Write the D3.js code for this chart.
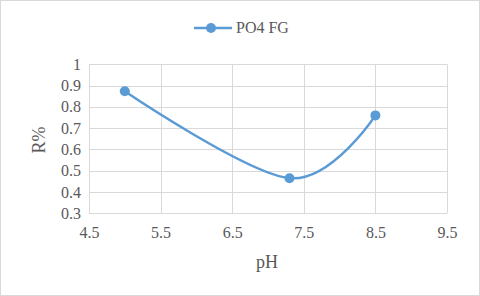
<!DOCTYPE html>
<html><head><meta charset="utf-8">
<script src="https://cdn.jsdelivr.net/npm/d3@7"></script>
</head><body>
<svg id="c" width="480" height="296"></svg>
<script>
const seriesName = "PO4 FG";
const phValues = [5.0, 7.3, 8.5];
const rValues = [0.873, 0.465, 0.76];
const xTicks = [4.5, 5.5, 6.5, 7.5, 8.5, 9.5];
const yTicks = [0.3, 0.4, 0.5, 0.6, 0.7, 0.8, 0.9, 1];
const xGrid = [4.5, 5.5, 6.5, 7.5, 8.5, 9.5];

d3.select("body").style("margin","0px");
const svg = d3.select("#c").style("display","block");
const blue = "#5b9bd5";
const TXT = "#595959";

svg.append("rect").attr("x",0.5).attr("y",0.5).attr("width",479).attr("height",295)
  .attr("fill","#fff").attr("stroke","#d9d9d9");

const x = d3.scaleLinear().domain([4.5,9.5]).range([89,447]);
const y = d3.scaleLinear().domain([0.3,1]).range([213.3,64.3]);

const g = svg.append("g");
g.selectAll(".hg").data(yTicks).join("line")
  .attr("x1",x(4.5)).attr("x2",x(9.5))
  .attr("y1",d=>Math.round(y(d))+0.5).attr("y2",d=>Math.round(y(d))+0.5)
  .attr("stroke","#d9d9d9").attr("stroke-width",1);
g.selectAll(".vg").data(xGrid).join("line")
  .attr("y1",y(0.3)).attr("y2",y(1))
  .attr("x1",d=>Math.round(x(d))+0.5).attr("x2",d=>Math.round(x(d))+0.5)
  .attr("stroke","#d9d9d9").attr("stroke-width",1);

function styleText(sel, size){
  sel.attr("font-family","Liberation Serif").attr("font-size",size).attr("fill",TXT);
}

const xa = d3.axisBottom(x).tickValues(xTicks).tickFormat(d3.format(".1f")).tickSize(0).tickPadding(13);
const xg = svg.append("g").attr("transform",`translate(0,${y(0.3)})`).call(xa);
xg.select(".domain").remove();
xg.attr("font-family",null).attr("font-size",null);
styleText(xg.selectAll("text"),16);

const ya = d3.axisLeft(y).tickValues(yTicks).tickFormat(d=>d===1?"1":d3.format(".1f")(d)).tickSize(0).tickPadding(8);
const yg = svg.append("g").attr("transform",`translate(${x(4.5)},0)`).call(ya);
yg.select(".domain").remove();
yg.attr("font-family",null).attr("font-size",null);
styleText(yg.selectAll("text"),16);

const data = phValues.map((p,i)=>({p, r:rValues[i]}));
const line = d3.line().x(d=>x(d.p)).y(d=>y(d.r)).curve(d3.curveCardinal.tension(0));
svg.append("path").datum(data).attr("d",line).attr("fill","none")
  .attr("stroke",blue).attr("stroke-width",2.5).attr("stroke-linecap","round");
svg.selectAll(".pt").data(data).join("circle")
  .attr("cx",d=>x(d.p)).attr("cy",d=>y(d.r)).attr("r",5).attr("fill",blue);

styleText(svg.append("text").attr("x",267).attr("y",268).attr("text-anchor","middle").text("pH"),18);
styleText(svg.append("text").attr("transform",`translate(45,140) rotate(-90)`).attr("text-anchor","middle").text("R%"),18);

svg.append("line").attr("x1",194).attr("x2",232).attr("y1",28).attr("y2",28)
  .attr("stroke",blue).attr("stroke-width",2.5);
svg.append("circle").attr("cx",211).attr("cy",28).attr("r",5).attr("fill",blue);
styleText(svg.append("text").attr("x",236).attr("y",33).text(seriesName),16);
</script>
</body></html>
